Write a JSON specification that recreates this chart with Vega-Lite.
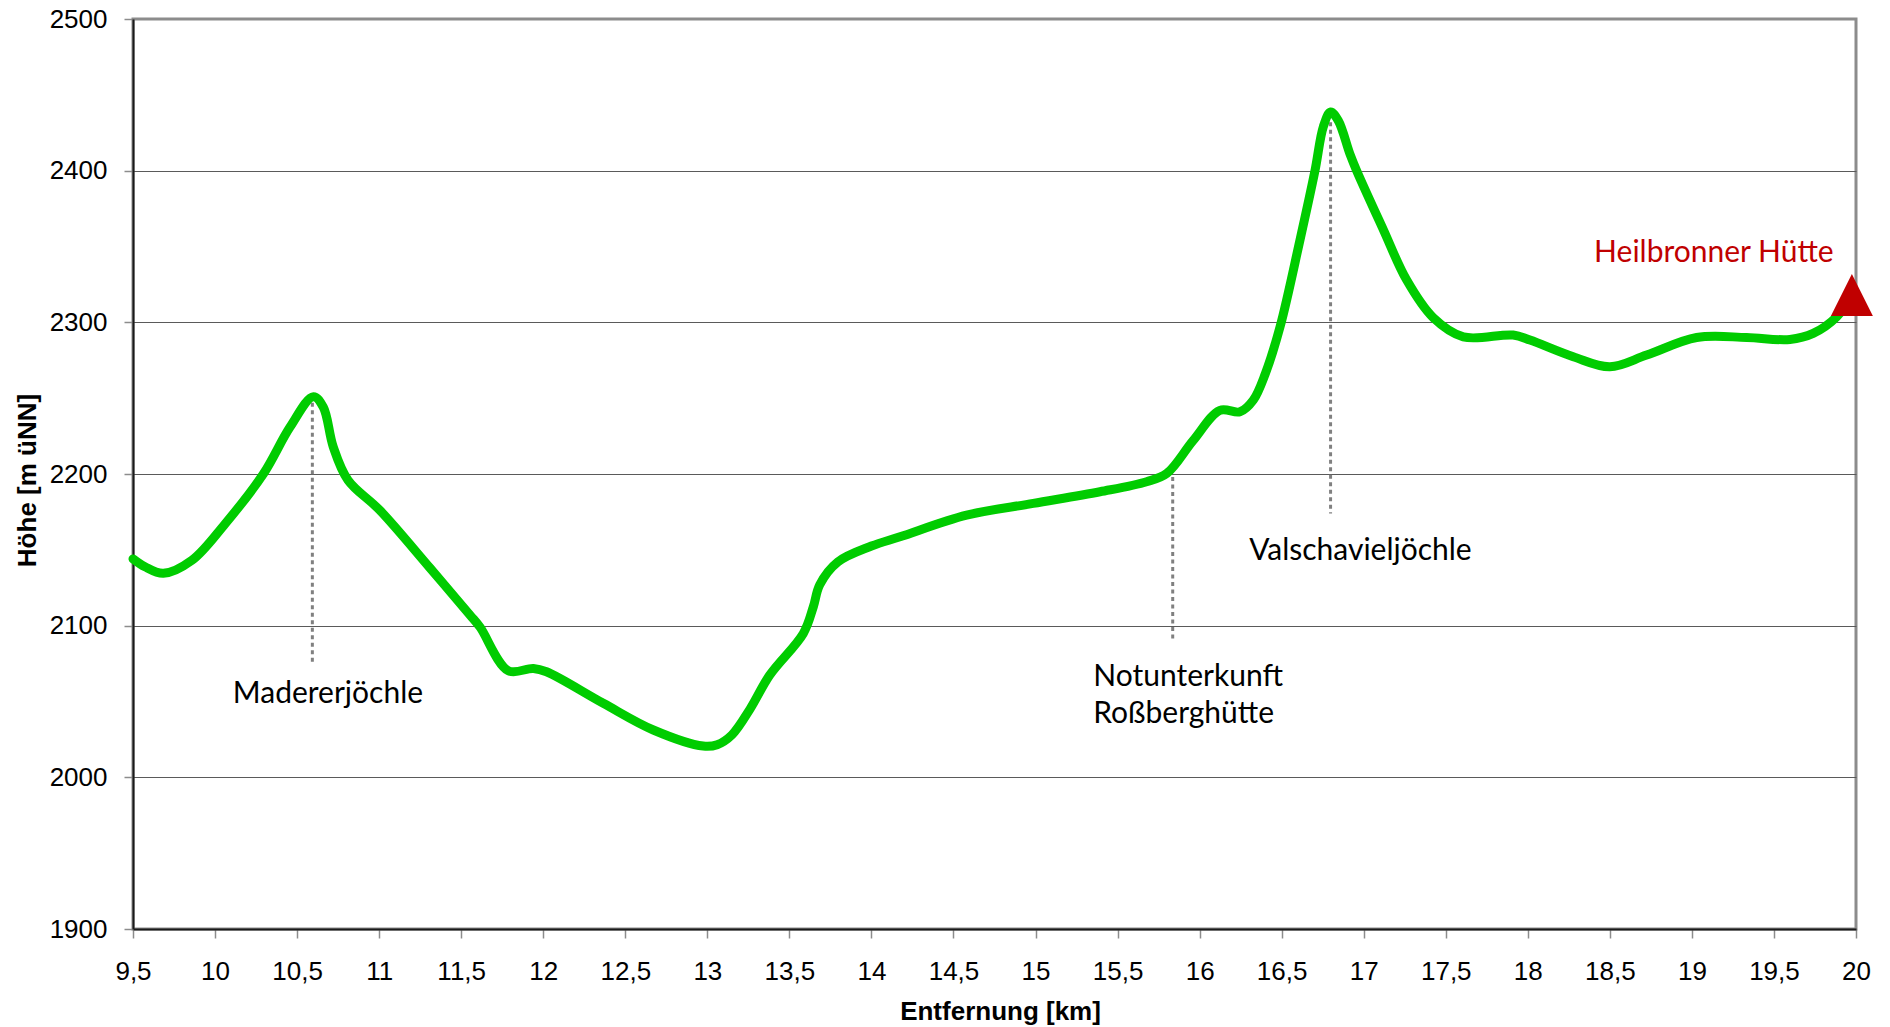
{
  "$schema": "https://vega.github.io/schema/vega-lite/v6.json",
  "width": 1723,
  "height": 910,
  "autosize": "none",
  "padding": {"left": 133, "top": 19, "right": 34, "bottom": 98},
  "background": "white",
  "config": {
    "view": {"stroke": "#8c8c8c", "strokeWidth": 3},
    "axis": {"labelFont": "Liberation Sans", "titleFont": "Liberation Sans"}
  },
  "datasets": {
    "profile": [
      {"km": 9.5, "m": 2144}, {"km": 9.573, "m": 2138.8}, {"km": 9.685, "m": 2134.5}, {"km": 9.858, "m": 2143},
      {"km": 10.06, "m": 2167}, {"km": 10.294, "m": 2200}, {"km": 10.457, "m": 2231}, {"km": 10.599, "m": 2251},
      {"km": 10.66, "m": 2244}, {"km": 10.72, "m": 2218}, {"km": 10.81, "m": 2196}, {"km": 11.005, "m": 2176},
      {"km": 11.31, "m": 2138}, {"km": 11.554, "m": 2107}, {"km": 11.615, "m": 2099}, {"km": 11.787, "m": 2070.3},
      {"km": 11.94, "m": 2071.8}, {"km": 12.02, "m": 2069.6}, {"km": 12.366, "m": 2048.8}, {"km": 12.671, "m": 2031.2},
      {"km": 12.975, "m": 2020.6}, {"km": 13.06, "m": 2021.5}, {"km": 13.15, "m": 2028}, {"km": 13.26, "m": 2045},
      {"km": 13.38, "m": 2067.4},
      {"km": 13.585, "m": 2094.9}, {"km": 13.646, "m": 2112.5}, {"km": 13.685, "m": 2127}, {"km": 13.795, "m": 2142},
      {"km": 14.0, "m": 2152.5}, {"km": 14.174, "m": 2158.6}, {"km": 14.58, "m": 2172.9}, {"km": 14.986, "m": 2180.6},
      {"km": 15.393, "m": 2188.3}, {"km": 15.677, "m": 2194.9}, {"km": 15.8, "m": 2200.4}, {"km": 15.96, "m": 2222},
      {"km": 16.124, "m": 2242}, {"km": 16.246, "m": 2241}, {"km": 16.327, "m": 2248.7}, {"km": 16.4, "m": 2266},
      {"km": 16.49, "m": 2297}, {"km": 16.611, "m": 2354}, {"km": 16.703, "m": 2400}, {"km": 16.754, "m": 2429},
      {"km": 16.798, "m": 2438.7}, {"km": 16.845, "m": 2433}, {"km": 16.916, "m": 2411}, {"km": 16.957, "m": 2400},
      {"km": 17.12, "m": 2361}, {"km": 17.261, "m": 2328}, {"km": 17.424, "m": 2303}, {"km": 17.607, "m": 2290.4},
      {"km": 17.911, "m": 2291.6}, {"km": 18.013, "m": 2288.3}, {"km": 18.277, "m": 2277.3}, {"km": 18.5, "m": 2270.7},
      {"km": 18.724, "m": 2278.4}, {"km": 19.029, "m": 2290}, {"km": 19.334, "m": 2290}, {"km": 19.597, "m": 2288.7},
      {"km": 19.739, "m": 2292.7}, {"km": 19.882, "m": 2303.6}, {"km": 19.975, "m": 2318}
    ],
    "pointers": [
      {"km": 10.593, "m": 2247, "m2": 2076},
      {"km": 15.836, "m": 2198, "m2": 2090.5},
      {"km": 16.798, "m": 2432, "m2": 2174}
    ],
    "centerLabels": [
      {"km": 10.688, "m": 2049, "label": "Madererjöchle"},
      {"km": 16.98, "m": 2143.2, "label": "Valschavieljöchle"}
    ],
    "leftLabels": [
      {"km": 15.352, "m": 2060.4, "label": "Notunterkunft"},
      {"km": 15.352, "m": 2035.6, "label": "Roßberghütte"}
    ],
    "hut": [{"km": 19.975, "m": 2318}],
    "hutLabel": [{"km": 19.134, "m": 2339.9, "label": "Heilbronner Hütte"}]
  },
  "encoding": {
    "x": {
      "field": "km", "type": "quantitative",
      "scale": {"domain": [9.5, 20], "nice": false, "zero": false},
      "axis": {
        "title": "Entfernung [km]",
        "values": [9.5, 10, 10.5, 11, 11.5, 12, 12.5, 13, 13.5, 14, 14.5, 15, 15.5, 16, 16.5, 17, 17.5, 18, 18.5, 19, 19.5, 20],
        "labelExpr": "replace(toString(datum.value), '.', ',')",
        "grid": false,
        "domainColor": "#1a1a1a", "domainWidth": 2,
        "tickColor": "#8c8c8c", "tickSize": 9, "tickWidth": 1.5,
        "labelFontSize": 26, "labelColor": "#000000", "labelPadding": 20,
        "labelOverlap": false, "labelFlush": false,
        "titleFontSize": 26, "titleFontWeight": "bold", "titleColor": "#000000",
        "titleBaseline": "alphabetic", "titleY": 90, "titleX": 867
      }
    },
    "y": {
      "field": "m", "type": "quantitative",
      "scale": {"domain": [1900, 2500], "nice": false, "zero": false},
      "axis": {
        "title": "Höhe [m üNN]",
        "values": [1900, 2000, 2100, 2200, 2300, 2400, 2500],
        "format": "d",
        "grid": true, "gridColor": "#5a5a5a", "gridWidth": 1,
        "gridOpacity": {"condition": {"test": "datum.value == 2500 || datum.value == 1900", "value": 0}, "value": 1},
        "domainColor": "#1a1a1a", "domainWidth": 2,
        "tickColor": "#8c8c8c", "tickSize": 9, "tickWidth": 1.5,
        "labelFontSize": 26, "labelColor": "#000000", "labelPadding": 17,
        "labelOverlap": false, "labelFlush": false,
        "titleFontSize": 26, "titleFontWeight": "bold", "titleColor": "#000000",
        "titleAngle": -90, "titleBaseline": "alphabetic", "titleAlign": "center",
        "titleX": -98, "titleY": 461
      }
    }
  },
  "layer": [
    {
      "data": {"name": "pointers"},
      "mark": {"type": "rule", "color": "#808080", "strokeWidth": 3, "strokeDash": [4, 3.5]},
      "encoding": {"y2": {"field": "m2"}}
    },
    {
      "data": {"name": "profile"},
      "mark": {"type": "line", "color": "#00cc00", "strokeWidth": 9, "interpolate": "catmull-rom", "strokeCap": "round", "strokeJoin": "round"}
    },
    {
      "data": {"name": "centerLabels"},
      "mark": {"type": "text", "font": "Lato", "fontSize": 30, "color": "#000000", "align": "center", "baseline": "alphabetic"},
      "encoding": {"text": {"field": "label"}}
    },
    {
      "data": {"name": "leftLabels"},
      "mark": {"type": "text", "font": "Lato", "fontSize": 30, "color": "#000000", "align": "left", "baseline": "alphabetic"},
      "encoding": {"text": {"field": "label"}}
    },
    {
      "data": {"name": "hutLabel"},
      "mark": {"type": "text", "font": "Lato", "fontSize": 30, "color": "#c00000", "align": "center", "baseline": "alphabetic"},
      "encoding": {"text": {"field": "label"}}
    },
    {
      "data": {"name": "hut"},
      "mark": {"type": "point", "shape": "M0,-1L1,1L-1,1Z", "size": 1764, "filled": true, "color": "#c00000", "opacity": 1, "strokeWidth": 0}
    }
  ]
}
